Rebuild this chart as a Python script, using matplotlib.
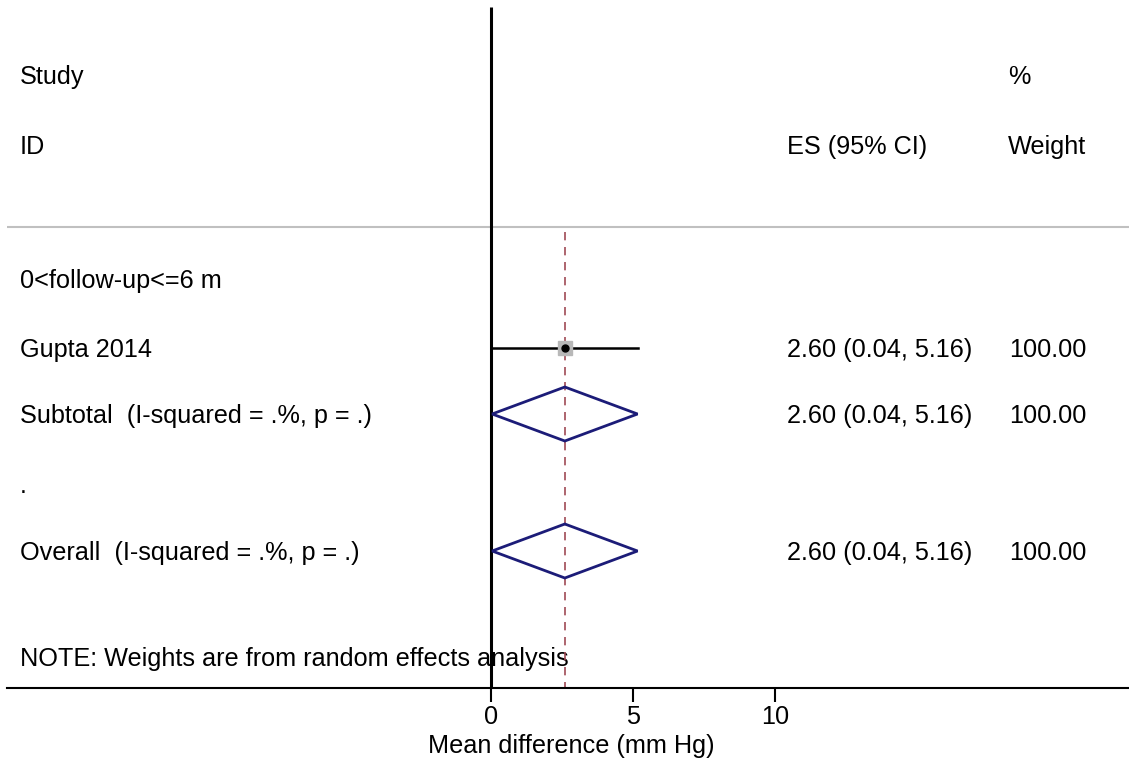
import matplotlib
matplotlib.use("Agg")
import matplotlib.pyplot as plt
from matplotlib.patches import Polygon

plt.rcParams['font.family'] = ['Liberation Sans', 'DejaVu Sans']

# ---- data ----
study_labels = ["0<follow-up<=6 m", "Gupta 2014", "Subtotal  (I-squared = .%, p = .)", ".", "Overall  (I-squared = .%, p = .)"]
row_kind = ["header", "study", "subtotal", "blank", "overall"]
es = [None, 2.60, 2.60, None, 2.60]
lo = [None, 0.04, 0.04, None, 0.04]
hi = [None, 5.16, 5.16, None, 5.16]
weights = [None, 100.00, 100.00, None, 100.00]
xticks = [0, 5, 10]
overall_es = 2.60
xlabel = "Mean difference (mm Hg)"
note = "NOTE: Weights are from random effects analysis"

# ---- layout ----
W, H = 1129, 763
fig = plt.figure(figsize=(W / 100, H / 100), dpi=100)
ax_left, ax_right, ax_top, ax_bot = 7, 1129, 7, 688
ax = fig.add_axes([ax_left / W, (H - ax_bot) / H, (ax_right - ax_left) / W, (ax_bot - ax_top) / H])
px0, px5 = 491, 633
scale = (px5 - px0) / 5.0
ax.set_xlim((ax_left - px0) / scale, (ax_right - px0) / scale)
ax.set_ylim(ax_bot, ax_top)

def px2x(p):
    return (p - px0) / scale

row_y = [279, 348, 414, 484, 551]
FS = 18.2
dy = 2
lx = 20

# headers
ax.text(px2x(lx), 75 + dy, "Study", fontsize=FS, va="center", ha="left")
ax.text(px2x(lx), 145 + dy, "ID", fontsize=FS, va="center", ha="left")
ax.text(px2x(1008), 75 + dy, "%", fontsize=FS, va="center", ha="left")
ax.text(px2x(1008), 145 + dy, "Weight", fontsize=FS, va="center", ha="left")
ax.text(px2x(787), 145 + dy, "ES (95% CI)", fontsize=FS, va="center", ha="left")

# separator
ax.plot([ax.get_xlim()[0], ax.get_xlim()[1]], [227, 227], color="#c0c0c0", lw=1.5, zorder=1)

# null line
ax.plot([0, 0], [ax_top, ax_bot], color="black", lw=2.2, zorder=2, solid_capstyle="butt")
# overall dashed line
ax.plot([overall_es, overall_es], [232, ax_bot], color="#a04a55", lw=1.2, ls=(0, (5, 4)), zorder=2)

for lab, kind, e, l, h, w, y in zip(study_labels, row_kind, es, lo, hi, weights, row_y):
    ax.text(px2x(lx), y + dy, lab, fontsize=FS, va="center", ha="left")
    if kind == "study":
        ax.plot([l, h], [y, y], color="black", lw=1.8, zorder=3)
        ax.plot([e], [y], marker="s", ms=10, color="#b8b8b8", mec="#b8b8b8", zorder=3)
        ax.plot([e], [y], marker="o", ms=5, color="black", zorder=4)
    elif kind in ("subtotal", "overall"):
        d = Polygon([[l, y], [e, y - 27], [h, y], [e, y + 27]], closed=True,
                    fill=False, edgecolor="#1c1c78", lw=2.0, zorder=3)
        ax.add_patch(d)
    if e is not None:
        ax.text(px2x(787), y + dy, f"{e:.2f} ({l:.2f}, {h:.2f})", fontsize=FS, va="center", ha="left")
        ax.text(px2x(1009), y + dy, f"{w:.2f}", fontsize=FS, va="center", ha="left")

ax.text(px2x(lx), 657 + dy, note, fontsize=FS, va="center", ha="left", zorder=1)

# axes styling
for s in ["top", "left", "right"]:
    ax.spines[s].set_visible(False)
ax.spines["bottom"].set_linewidth(1.5)
ax.set_yticks([])
ax.set_xticks(xticks)
ax.set_xticklabels([str(t) for t in xticks], fontsize=FS)
ax.tick_params(axis="x", length=10, width=1.5, pad=2)
ax.set_xlabel(xlabel, fontsize=FS)
ax.xaxis.set_label_coords((571 - ax_left) / (ax_right - ax_left), -(746 - ax_bot) / (ax_bot - ax_top))
ax.xaxis.label.set_va("center")

fig.savefig("out.png", dpi=100)
